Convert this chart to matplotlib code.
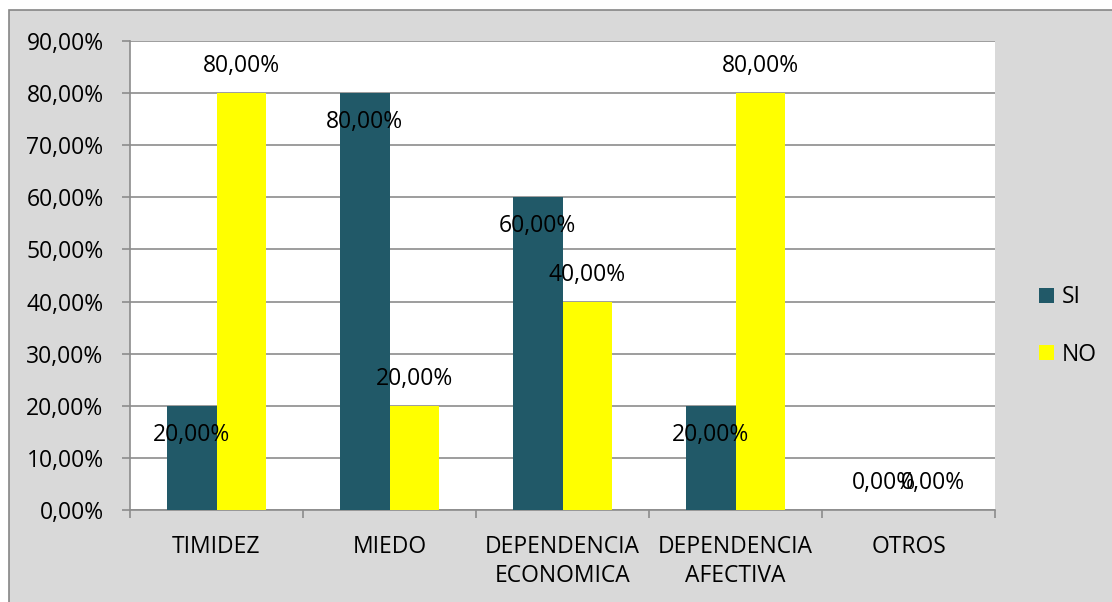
import numpy as np
import matplotlib
matplotlib.use("Agg")
import matplotlib.pyplot as plt
from matplotlib.patches import Rectangle, Patch
from matplotlib.ticker import FuncFormatter, FixedLocator

categorias = ["TIMIDEZ", "MIEDO", "DEPENDENCIA\nECONOMICA", "DEPENDENCIA\nAFECTIVA", "OTROS"]
si = [0.20, 0.80, 0.60, 0.20, 0.00]
no = [0.80, 0.20, 0.40, 0.80, 0.00]
series = ["SI", "NO"]
colores = ["#215968", "#FFFF00"]

plt.rcParams["font.family"] = ["Open Sans", "DejaVu Sans"]
fig = plt.figure(figsize=(11.12, 6.02), dpi=100)

# fondo gris del area del grafico
W, H = 1112, 602
fig.patches.append(Rectangle((9 / W, -0.05), 1.05, 1.05 - 10 / H, transform=fig.transFigure,
                             facecolor="#D9D9D9", edgecolor="#868686", linewidth=1.2, zorder=-1))

ax = fig.add_axes([130 / W, 1 - 510 / H, 865 / W, 469 / H])
ax.set_zorder(1)
ax.set_facecolor("white")

x = np.arange(len(categorias))
w = 1 / 3.5
fs = 16.5

ax.bar(x - w / 2, si, w, color=colores[0], zorder=3)
ax.bar(x + w / 2, no, w, color=colores[1], zorder=3)

fmt = lambda v: f"{v * 100:.2f}%".replace(".", ",")

# etiquetas de datos
for i in range(len(categorias)):
    off = -29 if si[i] > 0 else 27
    ax.annotate(fmt(si[i]), (x[i] - w / 2, si[i]), xytext=(0, off), textcoords="offset pixels",
                ha="center", va="center", fontsize=fs, zorder=4)
    ax.annotate(fmt(no[i]), (x[i] + w / 2, no[i]), xytext=(0, 27), textcoords="offset pixels",
                ha="center", va="center", fontsize=fs, zorder=4)

ax.set_xlim(-0.5, len(categorias) - 0.5)
ax.set_ylim(0, 0.9)
ax.set_yticks(np.arange(0, 0.91, 0.1))
ax.yaxis.set_major_formatter(FuncFormatter(lambda v, p: fmt(v)))
ax.yaxis.grid(True, color="#8C8C8C", linewidth=1.2, zorder=1)
ax.set_axisbelow(True)

ax.xaxis.set_major_locator(FixedLocator(np.arange(-0.5, len(categorias), 1)))
ax.xaxis.set_minor_locator(FixedLocator(x))
ax.set_xticklabels([])
ax.set_xticklabels(categorias, minor=True, fontsize=fs, linespacing=1.25)
ax.tick_params(axis="x", which="major", length=6, width=1.2, color="#8C8C8C", direction="out")
ax.tick_params(axis="x", which="minor", length=0, pad=18)
ax.tick_params(axis="y", length=6, width=1.2, color="#8C8C8C", labelsize=fs, pad=13)

for s in ["top", "right"]:
    ax.spines[s].set_visible(False)
for s in ["left", "bottom"]:
    ax.spines[s].set_color("#8C8C8C")
    ax.spines[s].set_linewidth(1.2)

handles = [Patch(facecolor=c, label=s) for c, s in zip(colores, series)]
fig.legend(handles=handles, loc="center left", bbox_to_anchor=(1018 / W, 1 - 326 / H),
           frameon=False, fontsize=fs, handlelength=0.65, handleheight=0.65,
           handletextpad=0.35, labelspacing=1.45)

fig.savefig("out.png", dpi=100)
